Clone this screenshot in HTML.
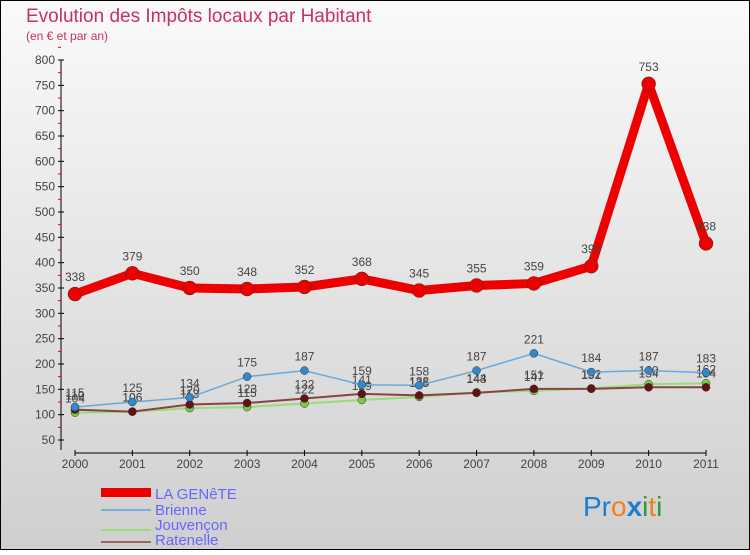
<!DOCTYPE html>
<html><head><meta charset="utf-8"><style>
body{margin:0;}
#c{width:750px;height:550px;position:relative;font-family:"Liberation Sans",sans-serif;}
</style></head><body>
<div id="c">
<svg id="s" width="750" height="550" xmlns="http://www.w3.org/2000/svg">
<defs><linearGradient id="bg" x1="0" y1="0" x2="0" y2="1"><stop offset="0" stop-color="#fafafa"/><stop offset="1" stop-color="#cfcfcf"/></linearGradient></defs>
<rect x="0" y="0" width="750" height="550" fill="url(#bg)" stroke="#000" stroke-width="2"/>
<text x="26" y="22" font-size="19" fill="#c8325a">Evolution des Impôts locaux par Habitant</text>
<text x="26" y="40" font-size="12" fill="#c8325a">(en € et par an)</text>
<g id="axes"></g><g id="series"></g>
<g font-size="15" fill="#6666ff">
<rect x="101" y="488" width="50" height="9" fill="#e00"/>
<text x="155" y="499">LA GENêTE</text>
<line x1="101" x2="151" y1="510" y2="510" stroke="#7ab0d8" stroke-width="2"/>
<text x="155" y="515">Brienne</text>
<line x1="101" x2="151" y1="530" y2="530" stroke="#99dd77" stroke-width="2"/>
<text x="155" y="530">Jouvençon</text>
<line x1="101" x2="151" y1="542" y2="542" stroke="#996666" stroke-width="2"/>
<text x="155" y="545">Ratenelle</text>
</g>
<text x="583" y="516" font-size="28"><tspan fill="#1a7fd0">Pr</tspan><tspan fill="#f08020">o</tspan><tspan fill="#1a7fd0" font-weight="bold">x</tspan><tspan fill="#2a9a3a">i</tspan><tspan fill="#f08020">t</tspan><tspan fill="#2a9a3a">i</tspan></text>
</svg></div>
<script>
const years=["2000","2001","2002","2003","2004","2005","2006","2007","2008","2009","2010","2011"];
const yTicks=[50,100,150,200,250,300,350,400,450,500,550,600,650,700,750,800];
const laGenete=[338,379,350,348,352,368,345,355,359,393,753,438];
const brienne=[115,125,134,175,187,159,158,187,221,184,187,183];
const jouvencon=[104,106,113,115,122,129,135,144,147,152,160,162];
const ratenelle=[110,106,120,123,132,141,138,143,151,151,154,154];
const NS="http://www.w3.org/2000/svg";
function X(i){return 75+i*(706-75)/11;}
function Y(v){return 440-(v-50)*380/750;}
function mk(t,a,p){const e=document.createElementNS(NS,t);for(const k in a)e.setAttribute(k,a[k]);p.appendChild(e);return e;}
const ax=document.getElementById('axes');
const yl=mk('line',{x1:61,x2:61,y1:Y(800),y2:450,stroke:'#000'},ax);


const xl=mk('line',{x1:75,x2:706,y1:453,y2:453,stroke:'#000'},ax);


yTicks.forEach(v=>{
 mk('line',{x1:58,x2:64,y1:Y(v),y2:Y(v),stroke:'#000'},ax);
 mk('line',{x1:58,x2:61,y1:Y(v+25),y2:Y(v+25),stroke:'#e00'},ax);
 const t=mk('text',{x:55,y:Y(v)+4,'font-size':12,fill:'#444','text-anchor':'end'},ax);t.textContent=v;
 
 
});
years.forEach((y,i)=>{
 mk('line',{x1:X(i),x2:X(i),y1:450,y2:456,stroke:'#000'},ax);
 const t=mk('text',{x:X(i),y:468,'font-size':12,fill:'#444','text-anchor':'middle'},ax);t.textContent=y;
 
 
});
const sg=document.getElementById('series');
function series(d,col,w,r,fillc,name){
 const g=mk('g',{},sg);
 
 
 mk('polyline',{points:d.map((v,i)=>X(i)+','+Y(v)).join(' '),fill:'none',stroke:col,'stroke-width':w,'stroke-linejoin':'round'},g);
 d.forEach((v,i)=>{
  const c=mk('circle',{cx:X(i),cy:Y(v),r:r,fill:fillc,stroke:'#333','stroke-width':0.5},g);
  
  
  const t=mk('text',{x:X(i),y:Y(v)-r-6,'font-size':12,fill:'#444','text-anchor':'middle'},g);t.textContent=v;
  
  
 });
}
series(jouvencon,'#99dd77',2,4,'#77cc44','jouvencon');
series(ratenelle,'#884444',2,4,'#661111','ratenelle');
series(brienne,'#6aaad8',1.5,4,'#3388cc','brienne');
series(laGenete,'#ee0000',9,7,'#ee0000','la-genete');
</script>
</body></html>
